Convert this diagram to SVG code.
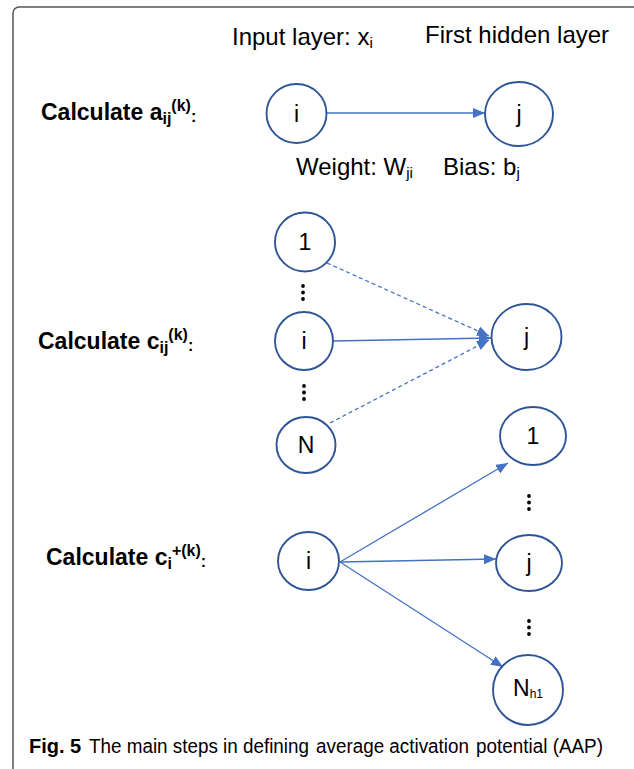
<svg xmlns="http://www.w3.org/2000/svg" width="634" height="769" viewBox="0 0 634 769">
<defs>
<style>
.node{fill:#fff;stroke:#2F5597;stroke-width:1.9}
.lbl{font-family:"Liberation Sans",Arial,sans-serif;font-size:23px;fill:#000;text-anchor:middle}
.txt{font-family:"Liberation Sans",Arial,sans-serif;font-size:24px;fill:#000}
.bold{font-family:"Liberation Sans",Arial,sans-serif;font-size:23px;font-weight:bold;fill:#000}
.cap{font-family:"Liberation Sans",Arial,sans-serif;font-size:20px;fill:#000}
.edge{stroke:#4472C4;stroke-width:1.3;fill:none}
.dash{stroke-dasharray:4 3}
.dot{fill:#000}
</style>
<marker id="arr" viewBox="0 0 12 10" refX="12" refY="5" markerWidth="12" markerHeight="10" markerUnits="userSpaceOnUse" orient="auto">
<path d="M0,0 L12,5 L0,10 z" fill="#4472C4"/>
</marker>
</defs>
<rect x="13" y="7" width="660" height="800" rx="6" fill="#fff" stroke="#555" stroke-width="1.5"/>

<g id="headers">
<text class="txt" x="232" y="45">Input layer: x<tspan font-size="15" dy="3">i</tspan></text>
<text class="txt" x="425" y="43">First hidden layer</text>
<text class="txt" x="296" y="175">Weight: W<tspan font-size="15" dy="3">ji</tspan></text>
<text class="txt" x="443" y="175" font-size="23">Bias: b<tspan font-size="15" dy="3">j</tspan></text>
</g>

<g id="labels">
<text class="bold" x="41" y="120">Calculate a<tspan font-size="16" dy="4">ij</tspan><tspan font-size="16" dy="-13">(k)</tspan><tspan font-size="16" dy="11">:</tspan></text>
<text class="bold" x="38" y="349">Calculate c<tspan font-size="16" dy="4">ij</tspan><tspan font-size="16" dy="-13">(k)</tspan><tspan font-size="16" dy="11">:</tspan></text>
<text class="bold" x="46" y="565">Calculate c<tspan font-size="16" dy="4">i</tspan><tspan font-size="16" dy="-13">+(k)</tspan><tspan font-size="16" dy="11">:</tspan></text>
</g>

<g id="connectors">
<line class="edge" x1="327" y1="113" x2="485" y2="113" marker-end="url(#arr)"/>
<line class="edge dash" x1="327" y1="263" x2="489" y2="336" marker-end="url(#arr)"/>
<line class="edge" x1="333" y1="341" x2="491" y2="338" marker-end="url(#arr)"/>
<line class="edge dash" x1="330" y1="423" x2="489" y2="340" marker-end="url(#arr)"/>
<line class="edge" x1="340" y1="562" x2="508" y2="463" marker-end="url(#arr)"/>
<line class="edge" x1="340" y1="562" x2="496" y2="559" marker-end="url(#arr)"/>
<line class="edge" x1="340" y1="562" x2="503" y2="667" marker-end="url(#arr)"/>
</g>

<g id="node-a-i"><ellipse class="node" cx="296.5" cy="113.5" rx="30" ry="29.5"/><text class="lbl" x="296.5" y="122">i</text></g>
<g id="node-a-j"><ellipse class="node" cx="519" cy="114" rx="34" ry="32"/><text class="lbl" x="519" y="122">j</text></g>

<g id="node-c-1"><ellipse class="node" cx="305" cy="242" rx="30" ry="29.5"/><text class="lbl" x="305" y="250">1</text></g>
<g id="dots-c-1"><circle class="dot" cx="303" cy="286" r="1.9"/><circle class="dot" cx="303" cy="292.5" r="1.9"/><circle class="dot" cx="303" cy="299" r="1.9"/></g>
<g id="node-c-i"><ellipse class="node" cx="304" cy="341" rx="29" ry="29"/><text class="lbl" x="304" y="349">i</text></g>
<g id="dots-c-2"><circle class="dot" cx="304" cy="386" r="1.9"/><circle class="dot" cx="304" cy="392.5" r="1.9"/><circle class="dot" cx="304" cy="399" r="1.9"/></g>
<g id="node-c-N"><ellipse class="node" cx="306" cy="445" rx="29.5" ry="28"/><text class="lbl" x="306" y="453">N</text></g>
<g id="node-c-j"><ellipse class="node" cx="526.5" cy="337" rx="35" ry="33"/><text class="lbl" x="526.5" y="345">j</text></g>

<g id="node-p-i"><ellipse class="node" cx="308.5" cy="561" rx="30.5" ry="29"/><text class="lbl" x="308.5" y="569">i</text></g>
<g id="node-p-1"><ellipse class="node" cx="533" cy="436" rx="33" ry="29"/><text class="lbl" x="533" y="444">1</text></g>
<g id="dots-p-1"><circle class="dot" cx="529" cy="496" r="1.9"/><circle class="dot" cx="529" cy="502.5" r="1.9"/><circle class="dot" cx="529" cy="509" r="1.9"/></g>
<g id="node-p-j"><ellipse class="node" cx="529" cy="563" rx="33" ry="28"/><text class="lbl" x="529" y="571">j</text></g>
<g id="dots-p-2"><circle class="dot" cx="529" cy="621" r="1.9"/><circle class="dot" cx="529" cy="627.5" r="1.9"/><circle class="dot" cx="529" cy="634" r="1.9"/></g>
<g id="node-p-Nh1"><ellipse class="node" cx="528" cy="690" rx="35" ry="35"/><text class="lbl" x="528" y="696" font-size="17">N<tspan font-size="12" dy="2">h1</tspan></text></g>

<g id="caption">
<text class="cap" x="29" y="753" font-size="21" font-weight="bold">Fig. 5</text>
<text class="cap" x="89" y="753" textLength="220" lengthAdjust="spacingAndGlyphs">The main steps in defining</text>
<text class="cap" x="316" y="753" textLength="153" lengthAdjust="spacingAndGlyphs">average activation</text>
<text class="cap" x="476" y="753" textLength="127" lengthAdjust="spacingAndGlyphs">potential (AAP)</text>
</g>
</svg>
